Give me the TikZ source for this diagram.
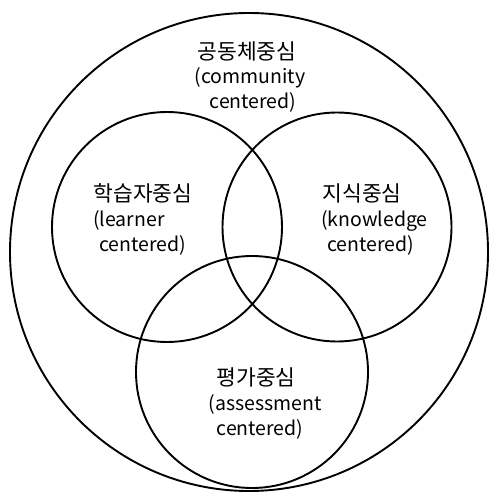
\documentclass[tikz,border=0pt]{standalone}
\usepackage{fontspec}
\setmainfont{Noto Sans CJK KR}
\begin{document}
\begin{tikzpicture}[x=1pt,y=-1pt,
  ring/.style={circle,draw,line width=1.9pt,inner sep=0pt},
  lbl/.style={font=\fontsize{19.5}{23}\selectfont,inner sep=0pt,anchor=base},
  kor/.style={lbl,font=\fontsize{21.5}{25}\selectfont}]
\useasboundingbox (0,0) rectangle (489,492);
\node[ring,minimum size=478pt] (outer) at (249,252) {};
\node[ring,minimum size=230pt] (learner) at (167,227) {};
\node[ring,minimum size=229pt] (knowledge) at (337,227) {};
\node[ring,minimum size=232pt] (assess) at (252,372) {};
% top
\node[kor] (t1) at (247,60) {공동체중심};
\node[lbl] (t2) at (250,84) {(community};
\node[lbl] (t3) at (253,109) {centered)};
% left
\node[kor] (l1) at (143,201) {학습자중심};
\node[lbl,anchor=base west] (l2) at (93,226) {(learner};
\node[lbl,anchor=base west] (l3) at (99,251) {centered)};
% right
\node[kor] (r1) at (362,201) {지식중심};
\node[lbl,anchor=base west] (r2) at (321,226) {(knowledge};
\node[lbl,anchor=base west] (r3) at (327,251) {centered)};
% bottom
\node[kor] (b1) at (256,385) {평가중심};
\node[lbl] (b2) at (265,410) {(assessment};
\node[lbl] (b3) at (260,435) {centered)};
\end{tikzpicture}
\end{document}
